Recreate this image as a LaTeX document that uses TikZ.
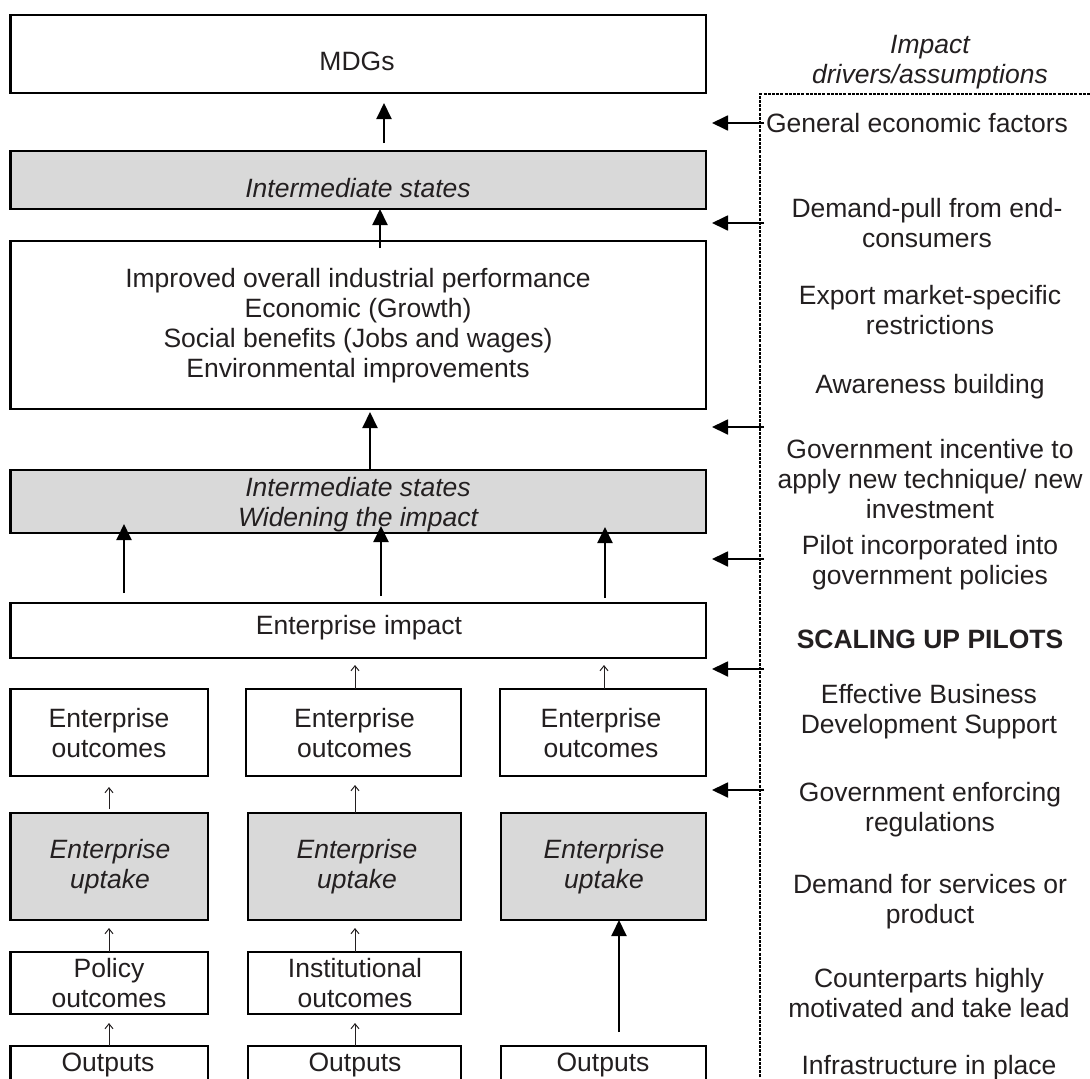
\documentclass[tikz,border=0pt]{standalone}
\usepackage{fontspec}
\setmainfont{Liberation Sans}
\usetikzlibrary{arrows.meta,calc}
\definecolor{ink}{HTML}{231F20}
\definecolor{shade}{HTML}{D9D9D9}
\begin{document}
\begin{tikzpicture}[x=1pt,y=-1pt,
  txt/.style={text=ink,font=\fontsize{26.5}{30}\selectfont,align=center,inner sep=0pt},
  frame/.style 2 args={draw=black,line width=2.6pt,inner sep=0pt,outer sep=0pt,
    minimum width=#1,minimum height=#2},
  grey/.style={fill=shade},
  bigarrow/.style={draw=black,line width=2pt,-{Triangle[length=16pt,width=15pt]}},
  sidearrow/.style={draw=black,line width=1.8pt,-{Triangle[length=16pt,width=15pt]}},
  thinarrow/.style={draw=ink,line width=1pt,-{Straight Barb[length=5pt,width=8pt,line width=1pt]}},
  dashline/.style={draw=black,line width=1.5pt,dash pattern=on 3pt off 1.2pt}]

\useasboundingbox (0,0) rectangle (1090,1079);
\fill[white] (0,0) rectangle (1090,1079);
\clip (0,0) rectangle (1090,1079);

% ---------- results chain (left) ----------
\node[frame={695.5pt}{78pt}]        (mdg)  at (358.25,54)   {};
\node[frame={695.5pt}{58pt},grey]   (is1)  at (358.25,180)  {};
\node[frame={695.5pt}{168pt}]       (perf) at (358.25,325)  {};
\node[frame={695.5pt}{63pt},grey]   (is2)  at (358.25,501.5){};
\node[frame={695.5pt}{55pt}]        (eimp) at (358.25,630.5){};

\node[frame={197.5pt}{87pt}]        (eo1) at (109.25,732.5) {};
\node[frame={215pt}{87pt}]          (eo2) at (353.5,732.5)  {};
\node[frame={206pt}{87pt}]          (eo3) at (603,732.5)    {};

\node[frame={197.5pt}{107pt},grey]  (up1) at (109.25,866.5) {};
\node[frame={213pt}{107pt},grey]    (up2) at (354.5,866.5)  {};
\node[frame={205pt}{107pt},grey]    (up3) at (603.5,866.5)  {};

\node[frame={197.5pt}{62pt}]        (pol)  at (109.25,983)  {};
\node[frame={213pt}{62pt}]          (inst) at (354.5,983)   {};

\node[frame={197.5pt}{64pt}]        (out1) at (109.25,1078) {};
\node[frame={213pt}{64pt}]          (out2) at (354.5,1078)  {};
\node[frame={205pt}{64pt}]          (out3) at (603.5,1078)  {};

% box texts
\node[txt] (mdgT)  at (357,61)  {MDGs};
\node[txt] (is1T)  at (358,188) {\itshape Intermediate states};
\node[txt] (perfT) at (358,326) {Improved overall industrial performance\\
  Economic (Growth)\\Social benefits (Jobs and wages)\\Environmental improvements};
\node[txt] (is2T)  at (358,505) {\itshape Intermediate states\\\itshape Widening the impact};
\node[txt] (eimpT) at (359,628) {Enterprise impact};

\node[txt] (eo1T) at (109,733) {Enterprise\\outcomes};
\node[txt] (eo2T) at (354.5,733) {Enterprise\\outcomes};
\node[txt] (eo3T) at (601,733) {Enterprise\\outcomes};

\node[txt] (up1T) at (110,867) {\itshape Enterprise\\\itshape uptake};
\node[txt] (up2T) at (357,867) {\itshape Enterprise\\\itshape uptake};
\node[txt] (up3T) at (604,867) {\itshape Enterprise\\\itshape uptake};

\node[txt] (polT)  at (109,983) {Policy\\outcomes};
\node[txt] (instT) at (355,983) {Institutional\\outcomes};

\node[txt] (out1T) at (108,1065) {Outputs};
\node[txt] (out2T) at (355,1065) {Outputs};
\node[txt] (out3T) at (603,1065) {Outputs};

% ---------- upward connectors ----------
\coordinate (ax1) at (384,0);
\coordinate (ax2) at (380,0);
\coordinate (ax3) at (370,0);
\coordinate (ax4) at (124,0);
\coordinate (ax5) at (381,0);
\coordinate (ax6) at (605,0);
\coordinate (ax7) at (619,0);
\coordinate (tx1) at (109,0);
\coordinate (tx2) at (355,0);
\coordinate (tx3) at (604,0);

\draw[bigarrow,shorten <=8pt,shorten >=10pt] (is1.north -| ax1) -- (mdg.south -| ax1);
\draw[bigarrow,shorten <=-7pt] (perf.north -| ax2) -- (is1.south -| ax2);
\draw[bigarrow,shorten >=3pt] (is2.north -| ax3) -- (perf.south -| ax3);
\draw[bigarrow,shorten <=10pt,shorten >=-9pt] (eimp.north -| ax4) -- (is2.south -| ax4);
\draw[bigarrow,shorten <=7pt,shorten >=-7pt] (eimp.north -| ax5) -- (is2.south -| ax5);
\draw[bigarrow,shorten <=5pt,shorten >=-6pt] (eimp.north -| ax6) -- (is2.south -| ax6);
\draw[bigarrow,shorten <=14pt] (out3.north -| ax7) -- (up3.south -| ax7);

\draw[thinarrow,shorten >=7pt] (eo2.north -| tx2) -- (eimp.south -| tx2);
\draw[thinarrow,shorten >=7pt] (eo3.north -| tx3) -- (eimp.south -| tx3);
\draw[thinarrow,shorten <=4pt,shorten >=11pt] (up1.north -| tx1) -- (eo1.south -| tx1);
\draw[thinarrow,shorten >=9pt] (up2.north -| tx2) -- (eo2.south -| tx2);
\draw[thinarrow,shorten >=8pt] (pol.north -| tx1) -- (up1.south -| tx1);
\draw[thinarrow,shorten >=8pt] (inst.north -| tx2) -- (up2.south -| tx2);
\draw[thinarrow,shorten >=9pt] (out1.north -| tx1) -- (pol.south -| tx1);
\draw[thinarrow,shorten >=9pt] (out2.north -| tx2) -- (inst.south -| tx2);

% ---------- drivers / assumptions panel (right) ----------
\coordinate (corner) at (760,94);
\draw[dashline] (760,1090) -- (corner) -- (1095,94);

\node[txt] (hdr) at (930,62) {\itshape Impact\\\itshape drivers/assumptions};

\node[txt] (r1)  at (917,123)  {General economic factors};
\node[txt] (r2)  at (927,223)  {Demand-pull from end-\\consumers};
\node[txt] (r3)  at (930,310)  {Export market-specific\\restrictions};
\node[txt] (r4)  at (930,387)  {Awareness building};
\node[txt] (r5)  at (930,479)  {Government incentive to\\apply new technique/ new\\investment};
\node[txt] (r6)  at (930,563)  {Pilot incorporated into\\government policies};
\node[txt,font=\fontsize{26.5}{30}\selectfont\bfseries] (r7) at (930,639) {SCALING UP PILOTS};
\node[txt] (r8)  at (929,712)  {Effective Business\\Development Support};
\node[txt] (r9)  at (930,810)  {Government enforcing\\regulations};
\node[txt] (r10) at (930,901.5){Demand for services or\\product};
\node[txt] (r11) at (929,993)  {Counterparts highly\\motivated and take lead};
\node[txt] (r12) at (929,1068) {Infrastructure in place};

\foreach \yy [count=\i] in {123,223,427,559,669,790}{
  \coordinate (s\i) at (764,\yy);
  \coordinate (e\i) at (712,\yy);
  \draw[sidearrow] (s\i) -- (e\i);
}
\end{tikzpicture}
\end{document}
